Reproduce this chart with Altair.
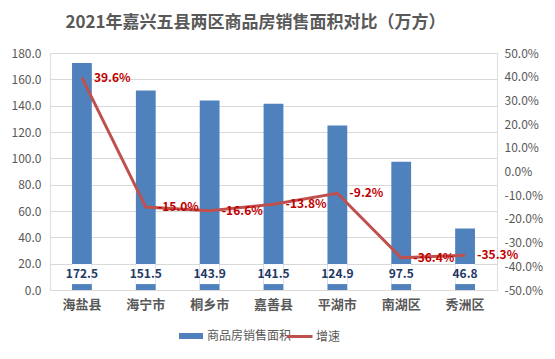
import altair as alt
import pandas as pd

categories = ["海盐县", "海宁市", "桐乡市", "嘉善县", "平湖市", "南湖区", "秀洲区"]
area = [172.5, 151.5, 143.9, 141.5, 124.9, 97.5, 46.8]
growth = [39.6, -15.0, -16.6, -13.8, -9.2, -36.4, -35.3]
area_ticks = [0, 20, 40, 60, 80, 100, 120, 140, 160, 180]
growth_ticks = [-50, -40, -30, -20, -10, 0, 10, 20, 30, 40, 50]
series_bar = "商品房销售面积"
series_line = "增速"

df = pd.DataFrame({"区县": categories, "面积": area, "增速": growth})
df["s1"] = series_bar
df["s2"] = series_line

FONT = "Noto Sans CJK SC"
GREY = "#595959"

x = alt.X("区县:N", sort=categories,
          scale=alt.Scale(paddingInner=0.69, paddingOuter=0.345),
          axis=alt.Axis(title=None, labelAngle=0, domain=False, ticks=False,
                        labelFontSize=13, labelFontWeight="bold", labelColor=GREY,
                        labelPadding=8, labelFont=FONT))

y_axis = alt.Axis(title=None, values=area_ticks, format=".1f", grid=True,
                  gridColor="#D9D9D9", domain=False, ticks=False, labelPadding=9,
                  labelFontSize=12, labelColor=GREY, labelFont=FONT, orient="left")
y_scale = alt.Scale(domain=[0, 180], nice=False)

bars = alt.Chart(df).mark_bar().encode(
    x=x,
    y=alt.Y("面积:Q", scale=y_scale, axis=y_axis),
    fill=alt.Fill("s1:N", scale=alt.Scale(domain=[series_bar], range=["#4F81BD"]),
                  legend=alt.Legend(title=None, orient="none", legendX=135, legendY=277,
                                    symbolType="M-2,-0.5H2V0.5H-2Z", symbolSize=144,
                                    labelOffset=10,
                                    labelFontSize=12, labelColor=GREY, labelFont=FONT,
                                    symbolStrokeWidth=0, symbolOpacity=1)),
)

boxes = alt.Chart(df).mark_bar(color="white").encode(
    x=x,
    y=alt.YDatum(4.5, scale=y_scale, axis=y_axis),
    y2=alt.Y2Datum(19.7),
)

bar_text = alt.Chart(df).mark_text(fontWeight="bold", fontSize=12, color="#1F3864",
                                   font=FONT, baseline="middle").encode(
    x=x,
    y=alt.YDatum(12.3, scale=y_scale, axis=y_axis),
    text=alt.Text("面积:Q", format=".1f"),
)

g_scale = alt.Scale(domain=[-50, 50], nice=False)
g_axis = alt.Axis(title=None, orient="right", values=growth_ticks,
                  labelExpr="replace(format(datum.value, '.1f'), '\u2212', '-') + '%'",
                  grid=False, domain=False, ticks=False, labelPadding=7, labelFontSize=12,
                  labelColor=GREY, labelFont=FONT)

line = alt.Chart(df).mark_line(strokeWidth=3).encode(
    x=x,
    y=alt.Y("增速:Q", scale=g_scale, axis=g_axis),
    stroke=alt.Stroke("s2:N", scale=alt.Scale(domain=[series_line], range=["#C0504D"]),
                      legend=alt.Legend(title=None, orient="none", legendX=242, legendY=276,
                                        symbolType="M-2.1667,0H2.1667", symbolSize=144,
                                        symbolStrokeWidth=3, labelOffset=9,
                                        labelFontSize=12, labelColor=GREY, labelFont=FONT)),
)

line_text = alt.Chart(df).transform_calculate(
    lab="replace(format(datum['增速'], '.1f'), '\u2212', '-') + '%'"
).mark_text(align="left", dx=12, baseline="middle", color="#C00000",
            fontWeight="bold", fontSize=12, font=FONT).encode(
    x=x,
    y=alt.Y("增速:Q", scale=g_scale, axis=g_axis),
    text="lab:N",
)

left = alt.layer(bars, boxes, bar_text)
right = alt.layer(line, line_text)

chart = alt.layer(left, right).resolve_scale(y="independent").properties(
    width=447, height=237,
    autosize="none",
    padding={"left": 42, "top": 45, "right": 50, "bottom": 61},
    title=alt.Title("2021年嘉兴五县两区商品房销售面积对比（万方）", fontSize=17,
                    fontWeight="bold", color=GREY, font=FONT, anchor="middle",
                    dx=-18, offset=15),
).configure_view(stroke=None).configure(background="white")

chart.save("out.html", embed_options={"renderer": "svg", "actions": False})
